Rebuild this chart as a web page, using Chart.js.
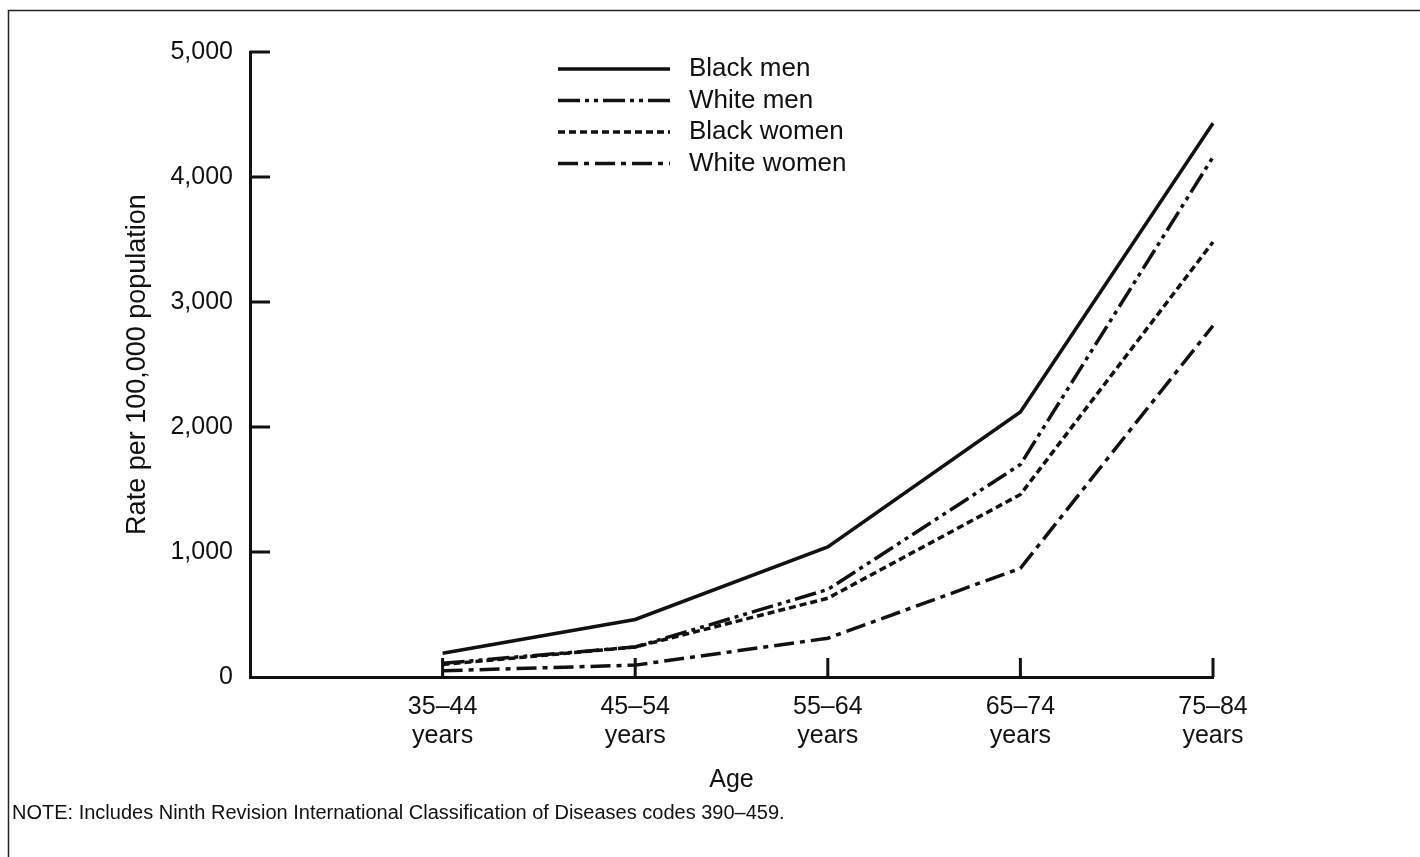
<!DOCTYPE html>
<html>
<head>
<meta charset="utf-8">
<script src="https://cdn.jsdelivr.net/npm/chart.js@4/dist/chart.umd.min.js"></script>
<style>
  html, body { margin: 0; padding: 0; background: #fff; }
</style>
</head>
<body>
<canvas id="chart" width="1420" height="857"></canvas>
<script>
// data (rate per 100,000 population)
const ageGroups  = ['', '35–44', '45–54', '55–64', '65–74', '75–84'];
const blackMen   = [null, 190, 460, 1040, 2120, 4430];
const whiteMen   = [null, 110, 240, 700, 1700, 4160];
const blackWomen = [null, 100, 240, 630, 1460, 3480];
const whiteWomen = [null, 50, 95, 310, 870, 2810];
const yTicks     = [0, 1000, 2000, 3000, 4000, 5000];

const FONT = '"Liberation Sans", Arial, Helvetica, sans-serif';
const INK  = '#111';

// box around the figure (left and top edges visible)
const framePlugin = {
    id: 'frame',
    beforeDraw(chart) {
        const ctx = chart.ctx;
        ctx.save();
        ctx.fillStyle = '#fff';
        ctx.fillRect(0, 0, chart.width, chart.height);
        ctx.strokeStyle = '#222';
        ctx.lineWidth = 1.5;
        ctx.beginPath();
        ctx.moveTo(8.5, chart.height);
        ctx.lineTo(8.5, 10.5);
        ctx.lineTo(chart.width, 10.5);
        ctx.stroke();
        ctx.restore();
    }
};

// tick marks drawn inward from the axes
const innerTicks = {
    id: 'innerTicks',
    afterDraw(chart) {
        const { ctx, chartArea, scales } = chart;
        ctx.save();
        ctx.strokeStyle = INK;
        ctx.lineWidth = 3;
        ctx.beginPath();
        yTicks.forEach(v => {
            if (v === 0) return;
            const y = scales.y.getPixelForValue(v);
            ctx.moveTo(chartArea.left, y);
            ctx.lineTo(chartArea.left + 20, y);
        });
        ageGroups.forEach((g, i) => {
            if (!g) return;
            const x = scales.x.getPixelForValue(i);
            ctx.moveTo(x, chartArea.bottom);
            ctx.lineTo(x, chartArea.bottom - 19);
        });
        ctx.stroke();
        ctx.restore();
    }
};

// legend inside the plot, line sample + label
const insideLegend = {
    id: 'insideLegend',
    afterDraw(chart) {
        const ctx = chart.ctx;
        chart.data.datasets.forEach((ds, i) => {
            const y = 69 + i * 31.5;
            ctx.save();
            ctx.strokeStyle = ds.borderColor;
            ctx.lineWidth = ds.borderWidth;
            ctx.setLineDash(ds.borderDash || []);
            ctx.beginPath();
            ctx.moveTo(558, y);
            ctx.lineTo(670, y);
            ctx.stroke();
            ctx.setLineDash([]);
            ctx.font = '26px ' + FONT;
            ctx.fillStyle = INK;
            ctx.textBaseline = 'middle';
            ctx.fillText(ds.label, 689, y);
            ctx.restore();
        });
    }
};

const lineStyle = (label, data, dash) => ({
    label, data,
    borderColor: INK,
    borderWidth: 3.5,
    borderDash: dash,
    pointRadius: 0,
    tension: 0,
    fill: false,
    spanGaps: false
});

new Chart(document.getElementById('chart'), {
    type: 'line',
    data: {
        labels: ageGroups,
        datasets: [
            lineStyle('Black men',   blackMen,   []),
            lineStyle('White men',   whiteMen,   [22, 5, 4, 5, 4, 5]),
            lineStyle('Black women', blackWomen, [7, 4]),
            lineStyle('White women', whiteWomen, [20, 6, 5, 6])
        ]
    },
    options: {
        responsive: false,
        animation: false,
        devicePixelRatio: 1,
        layout: { padding: { left: 12, top: 52, right: 207, bottom: 22 } },
        plugins: {
            legend: { display: false },
            tooltip: { enabled: false },
            title: {
                display: true,
                position: 'bottom',
                align: 'start',
                text: 'NOTE: Includes Ninth Revision International Classification of Diseases codes 390–459.',
                color: INK,
                font: { family: FONT, size: 20, weight: 'normal', lineHeight: 1.2 },
                padding: { top: 6, bottom: 10 }
            }
        },
        scales: {
            x: {
                type: 'category',
                offset: false,
                grid: { display: false, drawTicks: false },
                border: { display: true, color: INK, width: 3 },
                ticks: {
                    autoSkip: false,
                    maxRotation: 0,
                    padding: 15,
                    color: INK,
                    font: { family: FONT, size: 25, lineHeight: 1.17 },
                    callback: (v, i) => ageGroups[i] ? [ageGroups[i], 'years'] : ''
                },
                title: {
                    display: true,
                    text: 'Age',
                    color: INK,
                    font: { family: FONT, size: 25, lineHeight: 1.2 },
                    padding: { top: 0, bottom: 0 }
                },
                afterFit: s => { s.height = 118; }
            },
            y: {
                min: 0,
                max: 5000,
                grid: { display: false, drawTicks: false },
                border: { display: true, color: INK, width: 3 },
                afterBuildTicks: s => { s.ticks = yTicks.map(v => ({ value: v })); },
                ticks: {
                    padding: 17,
                    color: INK,
                    font: { family: FONT, size: 25 },
                    callback: v => v.toLocaleString('en-US')
                },
                title: {
                    display: true,
                    text: 'Rate per 100,000 population',
                    color: INK,
                    font: { family: FONT, size: 27, lineHeight: 1.2 },
                    padding: { top: 109, bottom: 0 }
                },
                afterFit: s => { s.width = 238; }
            }
        }
    },
    plugins: [framePlugin, innerTicks, insideLegend]
});
</script>
</body>
</html>
